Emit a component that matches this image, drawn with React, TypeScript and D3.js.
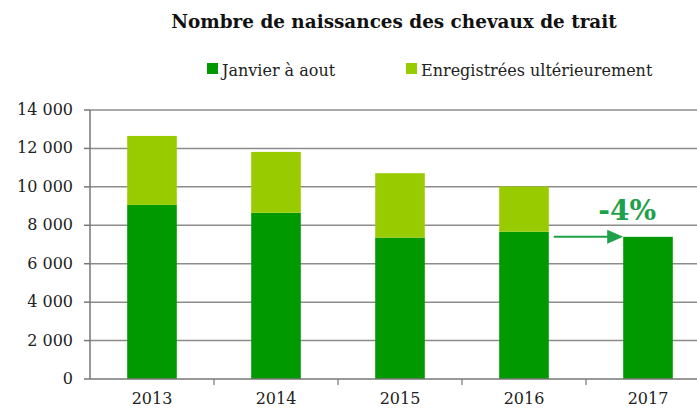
import { useEffect, useRef } from 'react';
import * as d3 from 'd3';

// Données
const annees = ['2013', '2014', '2015', '2016', '2017'];
const janvierAout = [9060, 8650, 7360, 7670, 7400];
const ulterieur = [3590, 3170, 3350, 2350, 0];
const yTicks = [0, 2000, 4000, 6000, 8000, 10000, 12000, 14000];
const seriesNoms = ['Janvier à aout', 'Enregistrées ultérieurement'];
const couleurs = ['#009900', '#99cc00'];
const variation = '-4%';

const W = 697;
const H = 410;

const App = () => {
  const svgRef = useRef<SVGSVGElement | null>(null);

  useEffect(() => {
    if (!svgRef.current) return;
    const svg = d3.select(svgRef.current);
    svg.selectAll('*').remove();

    const left = 90;
    const x = d3.scaleBand().domain(annees).range([left, left + 124 * annees.length]).paddingInner(0.6).paddingOuter(0.3);
    const y = d3.scaleLinear().domain([0, 14000]).range([379, 110]);
    const font = 'Georgia, "DejaVu Serif", serif';

    // Grille horizontale
    svg.append('g').selectAll('line').data(yTicks.filter(d => d > 0)).enter().append('line')
      .attr('x1', left).attr('x2', W)
      .attr('y1', d => y(d)).attr('y2', d => y(d))
      .attr('stroke', '#8c8c8c').attr('stroke-width', 1.5);

    // Barres empilées
    const rows = annees.map((a, i) => ({ annee: a, janv: janvierAout[i], ult: ulterieur[i] }));
    const stack = d3.stack<any>().keys(['janv', 'ult'])(rows);
    stack.forEach((s, k) => {
      svg.append('g').selectAll('rect').data(s).enter().append('rect')
        .attr('x', d => x(d.data.annee)!)
        .attr('width', x.bandwidth())
        .attr('y', d => y(d[1]))
        .attr('height', d => y(d[0]) - y(d[1]))
        .attr('fill', couleurs[k]);
    });

    // Axe Y
    svg.append('line').attr('x1', left).attr('x2', left).attr('y1', y(14000)).attr('y2', y(0))
      .attr('stroke', '#777').attr('stroke-width', 1.5);
    svg.append('g').selectAll('line').data(yTicks).enter().append('line')
      .attr('x1', left - 6).attr('x2', left).attr('y1', d => y(d)).attr('y2', d => y(d))
      .attr('stroke', '#777').attr('stroke-width', 1.5);
    svg.append('g').selectAll('text').data(yTicks).enter().append('text')
      .attr('x', 73).attr('y', d => y(d) + 5)
      .attr('text-anchor', 'end').attr('font-family', font).attr('font-size', 16).attr('fill', '#222')
      .text(d => d3.format(',')(d).replace(/,/g, ' '));

    // Axe X
    svg.append('line').attr('x1', left).attr('x2', W).attr('y1', y(0)).attr('y2', y(0))
      .attr('stroke', '#777').attr('stroke-width', 1.5);
    const step = x.step();
    svg.append('g').selectAll('line').data(annees).enter().append('line')
      .attr('x1', (_, i) => left + step * (i + 1)).attr('x2', (_, i) => left + step * (i + 1))
      .attr('y1', y(0)).attr('y2', y(0) + 6)
      .attr('stroke', '#777').attr('stroke-width', 1.2);
    svg.append('g').selectAll('text').data(annees).enter().append('text')
      .attr('x', d => x(d)! + x.bandwidth() / 2).attr('y', 404)
      .attr('text-anchor', 'middle').attr('font-family', font).attr('font-size', 16).attr('fill', '#222')
      .text(d => d);

    // Titre
    svg.append('text').attr('x', 394).attr('y', 28).attr('text-anchor', 'middle')
      .attr('font-family', font).attr('font-weight', 'bold').attr('font-size', 18.4).attr('fill', '#111')
      .text('Nombre de naissances des chevaux de trait');

    // Légende
    const legX = [207, 406];
    seriesNoms.forEach((n, i) => {
      svg.append('rect').attr('x', legX[i]).attr('y', 63).attr('width', 11).attr('height', 11).attr('fill', couleurs[i]);
      svg.append('text').attr('x', legX[i] + 15).attr('y', 76)
        .attr('font-family', font).attr('font-size', 16).attr('fill', '#222').text(n);
    });

    // Flèche et variation
    const vert = '#1fa04a';
    const last = annees.length - 1;
    const ya = y(janvierAout[last]);
    const x0 = x(annees[last - 1])! + x.bandwidth() + 5;
    const x1 = x(annees[last])!;
    svg.append('line').attr('x1', x0).attr('x2', x1 - 14).attr('y1', ya).attr('y2', ya)
      .attr('stroke', vert).attr('stroke-width', 2);
    svg.append('path').attr('d', `M${x1 - 16},${ya - 7}L${x1},${ya}L${x1 - 16},${ya + 7}Z`).attr('fill', vert);
    svg.append('text').attr('x', x1 + 4).attr('y', ya - 17).attr('text-anchor', 'middle')
      .attr('font-family', font).attr('font-weight', 'bold').attr('font-size', 28).attr('fill', vert)
      .text(variation);
  }, []);

  return <svg ref={svgRef} width={W} height={H} style={{ position: 'absolute', left: 0, top: 0, background: '#fff' }} />;
};

export default App;
